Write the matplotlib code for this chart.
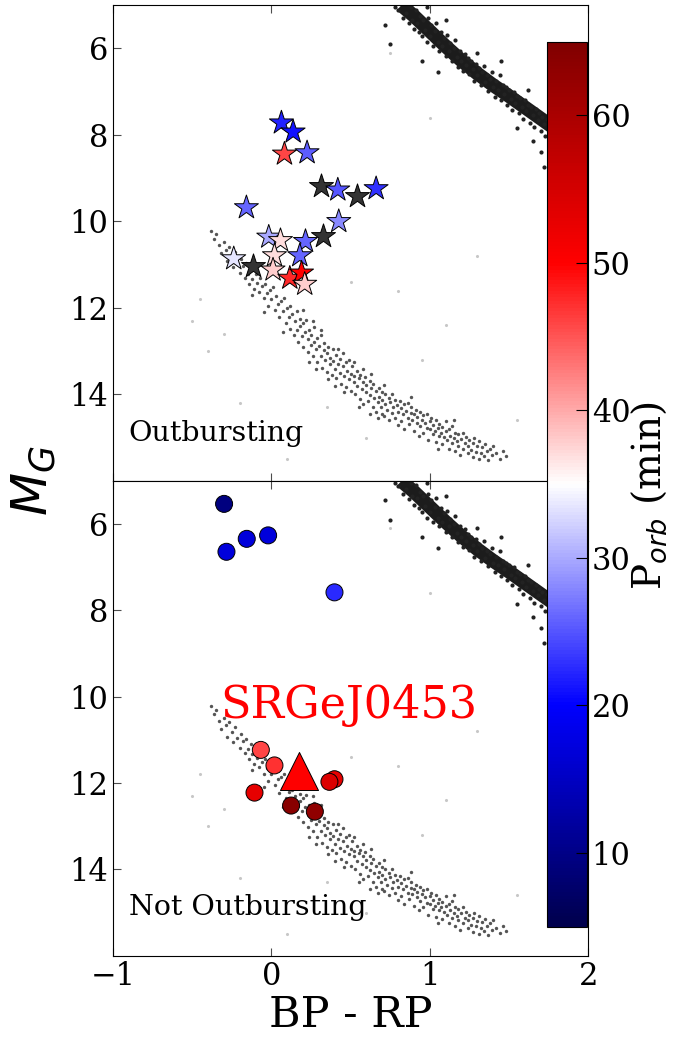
import matplotlib
matplotlib.use('Agg')
import matplotlib.pyplot as plt
import numpy as np

plt.rcParams['font.family'] = 'DejaVu Serif'

# --- outbursting AM CVn systems (stars) ---
out_bprp = [0.063, 0.137, 0.082, 0.225, 0.419, 0.661, -0.158, 0.425, -0.017, 0.057,
            0.215, 0.179, -0.238, 0.019, 0.010, 0.116, 0.190, 0.210]
out_mg = [7.72, 7.93, 8.44, 8.41, 9.27, 9.24, 9.68, 10.00, 10.36, 10.44,
          10.46, 10.79, 10.86, 10.79, 11.12, 11.31, 11.19, 11.45]
out_porb = [22, 21, 46, 25.5, 25, 23, 26, 28, 30, 37,
            26, 26, 33.5, 37, 38, 47.5, 50, 38]
# outbursting, no known period
out_nop_bprp = [0.310, 0.541, 0.326, -0.116]
out_nop_mg = [9.18, 9.41, 10.33, 11.04]

# --- non-outbursting systems (circles) ---
quiet_bprp = [-0.299, -0.284, -0.156, -0.021, 0.398, -0.067, 0.019, 0.398, 0.366, -0.107, 0.124, 0.274]
quiet_mg = [5.53, 6.64, 6.34, 6.26, 7.58, 11.23, 11.59, 11.91, 11.97, 12.22, 12.52, 12.66]
quiet_porb = [9.3, 17, 17, 17, 22.5, 46, 47, 53, 54, 53, 64, 63]

# SRGeJ0453
srg_bprp = [0.177]
srg_mg = [11.73]
srg_porb = [50]

# axis ticks
x_ticks = [-1, 0, 1, 2]
x_ticklabels = ['\u22121', '0', '1', '2']
y_ticks = [6, 8, 10, 12, 14]
cb_ticks = [10, 20, 30, 40, 50, 60]

# --- background Gaia stars (BP-RP, M_G) ---
wd_points = [
    (-0.38, 10.22), (-0.36, 10.41), (-0.35, 10.30), (-0.33, 10.55), (-0.32, 10.74), (-0.30, 10.48),
    (-0.29, 10.66), (-0.28, 10.92), (-0.27, 10.58), (-0.25, 10.81), (-0.24, 11.05), (-0.23, 10.70),
    (-0.22, 10.95), (-0.20, 11.18), (-0.19, 10.86), (-0.18, 11.02), (-0.17, 11.30), (-0.16, 10.97),
    (-0.15, 11.22), (-0.14, 11.45), (-0.13, 11.10), (-0.12, 11.33), (-0.11, 11.55), (-0.10, 11.21),
    (-0.09, 11.42), (-0.08, 11.62), (-0.07, 11.30), (-0.06, 11.50), (-0.05, 11.78), (-0.04, 11.44),
    (-0.03, 11.66), (-0.02, 11.95), (-0.01, 11.58), (0.00, 11.80), (0.01, 11.52), (0.02, 12.05),
    (0.03, 11.72), (0.04, 11.90), (0.05, 12.22), (0.06, 11.85), (0.07, 12.08), (0.08, 11.78),
    (0.09, 12.35), (0.10, 12.00), (0.11, 12.20), (0.12, 12.48), (0.12, 11.95), (0.13, 12.15),
    (0.14, 12.62), (0.15, 12.30), (0.16, 12.08), (0.16, 12.50), (0.17, 12.78), (0.18, 12.25),
    (0.18, 12.42), (0.19, 12.65), (0.20, 12.35), (0.20, 12.90), (0.21, 12.55), (0.22, 12.28),
    (0.23, 12.72), (0.23, 13.02), (0.24, 12.50), (0.25, 12.85), (0.25, 12.62), (0.26, 13.12),
    (0.27, 12.78), (0.27, 12.45), (0.28, 12.95), (0.29, 13.25), (0.29, 12.70), (0.30, 12.88),
    (0.31, 13.10), (0.31, 12.62), (0.32, 13.38), (0.33, 12.98), (0.33, 12.80), (0.34, 13.20),
    (0.35, 13.05), (0.35, 13.48), (0.36, 12.90), (0.37, 13.30), (0.37, 13.15), (0.38, 13.55),
    (0.39, 12.95), (0.39, 13.22), (0.40, 13.40), (0.41, 13.08), (0.41, 13.62), (0.42, 13.30),
    (0.43, 13.18), (0.43, 13.50), (0.44, 13.75), (0.45, 13.35), (0.45, 13.05), (0.46, 13.58),
    (0.47, 13.25), (0.47, 13.82), (0.48, 13.45), (0.49, 13.65), (0.49, 13.20), (0.50, 13.52),
    (0.50, 13.92), (0.31, 12.50), (0.36, 13.65), (0.28, 13.40), (0.42, 12.95), (0.24, 13.25),
    (0.46, 13.95), (0.51, 13.35), (0.52, 13.70), (0.52, 13.58), (0.53, 14.00), (0.54, 13.45),
    (0.54, 13.80), (0.55, 13.62), (0.56, 14.10), (0.56, 13.55), (0.57, 13.88), (0.58, 13.70),
    (0.58, 14.22), (0.59, 13.60), (0.60, 13.95), (0.60, 13.78), (0.61, 14.15), (0.62, 13.68),
    (0.62, 14.02), (0.63, 13.85), (0.64, 14.30), (0.64, 13.75), (0.65, 14.08), (0.66, 13.92),
    (0.66, 14.40), (0.67, 14.18), (0.68, 13.85), (0.68, 14.05), (0.69, 14.28), (0.70, 13.95),
    (0.70, 14.12), (0.71, 14.50), (0.72, 14.00), (0.72, 14.22), (0.73, 14.35), (0.74, 14.08),
    (0.74, 14.60), (0.75, 14.18), (0.76, 14.42), (0.76, 13.98), (0.77, 14.30), (0.78, 14.12),
    (0.78, 14.55), (0.79, 14.25), (0.80, 14.40), (0.80, 14.70), (0.55, 14.30), (0.63, 13.52),
    (0.71, 13.78), (0.58, 13.40), (0.67, 14.55), (0.81, 14.15), (0.82, 14.32), (0.82, 14.62),
    (0.83, 14.45), (0.84, 14.22), (0.84, 14.80), (0.85, 14.38), (0.86, 14.55), (0.86, 14.20),
    (0.87, 14.68), (0.88, 14.42), (0.88, 14.30), (0.89, 14.58), (0.90, 14.85), (0.90, 14.45),
    (0.91, 14.35), (0.92, 14.65), (0.92, 14.52), (0.93, 14.95), (0.94, 14.40), (0.94, 14.72),
    (0.95, 14.58), (0.96, 14.48), (0.96, 14.88), (0.97, 14.65), (0.98, 14.78), (0.98, 14.45),
    (0.99, 15.05), (1.00, 14.62), (1.00, 14.80), (1.01, 14.55), (1.02, 14.92), (1.02, 14.70),
    (1.03, 14.85), (1.04, 14.60), (1.04, 15.10), (1.05, 14.78), (1.06, 14.95), (1.06, 14.68),
    (1.07, 14.88), (1.08, 15.15), (1.08, 14.75), (1.09, 14.98), (1.10, 14.85), (1.10, 14.62),
    (1.11, 15.05), (1.12, 14.80), (1.12, 15.25), (1.13, 14.95), (1.14, 15.12), (1.14, 14.72),
    (1.15, 15.00), (1.16, 14.88), (1.16, 15.30), (1.17, 15.08), (1.18, 14.92), (1.18, 15.18),
    (1.19, 15.40), (1.20, 15.02), (1.21, 14.88), (1.21, 15.25), (1.22, 15.12), (1.23, 14.98),
    (1.24, 15.35), (1.24, 15.18), (1.25, 15.05), (1.26, 15.28), (1.27, 15.45), (1.27, 15.12),
    (1.28, 15.00), (1.29, 15.32), (1.30, 15.20), (1.31, 15.50), (1.31, 15.08), (1.32, 15.35),
    (1.33, 15.22), (1.34, 15.42), (1.35, 15.15), (1.36, 15.30), (1.37, 15.52), (1.38, 15.25),
    (1.39, 15.40), (1.40, 15.18), (1.42, 15.35), (1.44, 15.48), (1.46, 15.30), (1.48, 15.42),
    (-0.05, 12.10), (0.07, 12.55), (0.26, 12.30), (0.40, 13.80), (0.62, 14.45), (0.88, 14.05),
    (1.15, 14.60), (0.52, 13.25), (0.20, 12.05), (-0.12, 11.70), (0.70, 14.45), (1.05, 15.25),
]

# main sequence: ridge line plus individual stars in the band
ms_ridge_bprp = [0.82, 0.90, 1.00, 1.10, 1.20, 1.30, 1.40, 1.50, 1.60, 1.70, 1.80, 1.90, 2.00]
ms_ridge_mg = [5.00, 5.25, 5.60, 5.95, 6.28, 6.58, 6.85, 7.10, 7.36, 7.62, 7.88, 8.12, 8.36]
ms_points = [
    (0.78, 5.05), (0.80, 5.12), (0.82, 4.95), (0.83, 5.30), (0.85, 5.18), (0.86, 4.98), (0.87, 5.42),
    (0.88, 5.05), (0.89, 5.35), (0.90, 5.55), (0.91, 5.10), (0.92, 5.40), (0.93, 5.62), (0.94, 5.25),
    (0.95, 5.72), (0.96, 5.35), (0.97, 5.58), (0.98, 5.85), (0.99, 5.30), (1.00, 5.72), (1.01, 5.45),
    (1.02, 5.95), (1.03, 5.60), (1.04, 5.40), (1.05, 5.85), (1.06, 6.05), (1.07, 5.62), (1.08, 5.95),
    (1.09, 5.75), (1.10, 6.18), (1.11, 5.70), (1.12, 6.05), (1.13, 5.88), (1.14, 6.30), (1.15, 6.00),
    (1.16, 5.80), (1.17, 6.20), (1.18, 6.42), (1.19, 6.05), (1.20, 6.30), (1.21, 6.52), (1.22, 6.12),
    (1.23, 6.38), (1.24, 6.22), (1.25, 6.60), (1.26, 6.30), (1.27, 6.48), (1.28, 6.75), (1.29, 6.35),
    (1.30, 6.62), (1.31, 6.45), (1.32, 6.85), (1.33, 6.55), (1.34, 6.40), (1.35, 6.78), (1.36, 6.62),
    (1.37, 6.98), (1.38, 6.70), (1.39, 6.55), (1.40, 6.90), (1.41, 7.12), (1.42, 6.75), (1.43, 6.95),
    (1.44, 6.62), (1.45, 7.20), (1.46, 6.85), (1.47, 7.05), (1.48, 6.90), (1.49, 7.30), (1.50, 6.95),
    (1.51, 7.18), (1.52, 7.42), (1.53, 7.00), (1.54, 7.25), (1.55, 7.10), (1.56, 7.50), (1.57, 7.15),
    (1.58, 7.35), (1.59, 7.62), (1.60, 7.20), (1.61, 7.45), (1.62, 7.30), (1.63, 7.72), (1.64, 7.35),
    (1.65, 7.55), (1.66, 7.82), (1.67, 7.40), (1.68, 7.65), (1.69, 7.50), (1.70, 7.90), (1.71, 7.58),
    (1.72, 7.75), (1.73, 8.02), (1.74, 7.62), (1.75, 7.85),
    (0.72, 5.45), (0.75, 5.90), (0.95, 6.30), (1.05, 6.55), (1.30, 6.10), (1.45, 6.30), (1.62, 6.95),
    (1.55, 7.85), (1.78, 7.30), (1.70, 8.40), (1.72, 8.75), (1.65, 8.15), (1.10, 5.35), (0.98, 5.05),
]

# sparse faint field stars
field_points = [
    (-0.50, 12.30), (-0.40, 13.00), (-0.30, 12.60), (0.50, 11.40), (0.80, 11.60), (1.30, 10.80),
    (0.10, 15.50), (0.60, 15.00), (-0.45, 11.80), (0.95, 13.20), (1.10, 12.40), (0.35, 14.30),
    (1.55, 14.60), (-0.20, 14.20), (0.75, 6.10), (1.00, 7.60),
]

cmap = 'seismic'
vmin, vmax = 5, 65

wd_x, wd_y = np.array(wd_points).T
ms_x, ms_y = np.array(ms_points).T
fd_x, fd_y = np.array(field_points).T

fig = plt.figure(figsize=(6.73, 10.4), dpi=100)
ax1 = fig.add_axes([0.168, 0.5375, 0.706, 0.4575])
ax2 = fig.add_axes([0.168, 0.081, 0.706, 0.4565])

for ax in (ax1, ax2):
    ax.scatter(fd_x, fd_y, s=5, color='0.78', lw=0, zorder=1)
    ax.plot(ms_ridge_bprp, ms_ridge_mg, color='#1c1c1c', lw=10, solid_capstyle='butt', zorder=1)
    ax.scatter(ms_x, ms_y, s=9, color='#222222', lw=0, zorder=1)
    ax.scatter(wd_x, wd_y, s=6, color='#555555', lw=0, zorder=1)
    ax.set_xlim(-1, 2)
    ax.set_ylim(16, 5)
    ax.set_xticks(x_ticks, labels=x_ticklabels)
    ax.set_yticks(y_ticks, labels=[str(t) for t in y_ticks])
    ax.tick_params(direction='in', top=True, right=True, length=6, labelsize=22, color='0.3')

ax1.scatter(out_nop_bprp, out_nop_mg, marker='*', s=330, color='#333333', edgecolor='k', lw=0.7, zorder=3)
sc = ax1.scatter(out_bprp, out_mg, c=out_porb, cmap=cmap, vmin=vmin, vmax=vmax, marker='*', s=330,
                 edgecolor='k', lw=0.7, zorder=3)
ax1.tick_params(labelbottom=False)
ax1.text(0.033, 0.085, 'Outbursting', transform=ax1.transAxes, fontsize=20.5)

ax2.scatter(quiet_bprp, quiet_mg, c=quiet_porb, cmap=cmap, vmin=vmin, vmax=vmax, marker='o', s=150,
            edgecolor='k', lw=0.7, zorder=3)
ax2.scatter(srg_bprp, srg_mg, c=srg_porb, cmap=cmap, vmin=vmin, vmax=vmax, marker='^', s=750,
            edgecolor='k', lw=0.7, zorder=4)
ax2.text(0.49, 10.2, 'SRGeJ0453', color='red', fontsize=32, ha='center', va='center')
ax2.text(0.033, 0.085, 'Not Outbursting', transform=ax2.transAxes, fontsize=20.5)
ax2.set_xlabel('BP - RP', fontsize=31, labelpad=2)

fig.text(0.05, 0.5375, '$M_G$', fontsize=36, rotation=90, ha='center', va='center')

cax = fig.add_axes([0.813, 0.109, 0.059, 0.851])
cb = fig.colorbar(sc, cax=cax)
cb.set_ticks(cb_ticks, labels=[str(t) for t in cb_ticks])
cb.ax.tick_params(direction='in', labelsize=22, length=8)
fig.text(0.964, 0.523, 'P$_{orb}$ (min)', fontsize=28, rotation=90, ha='center', va='center')

fig.savefig('out.png', dpi=100)
